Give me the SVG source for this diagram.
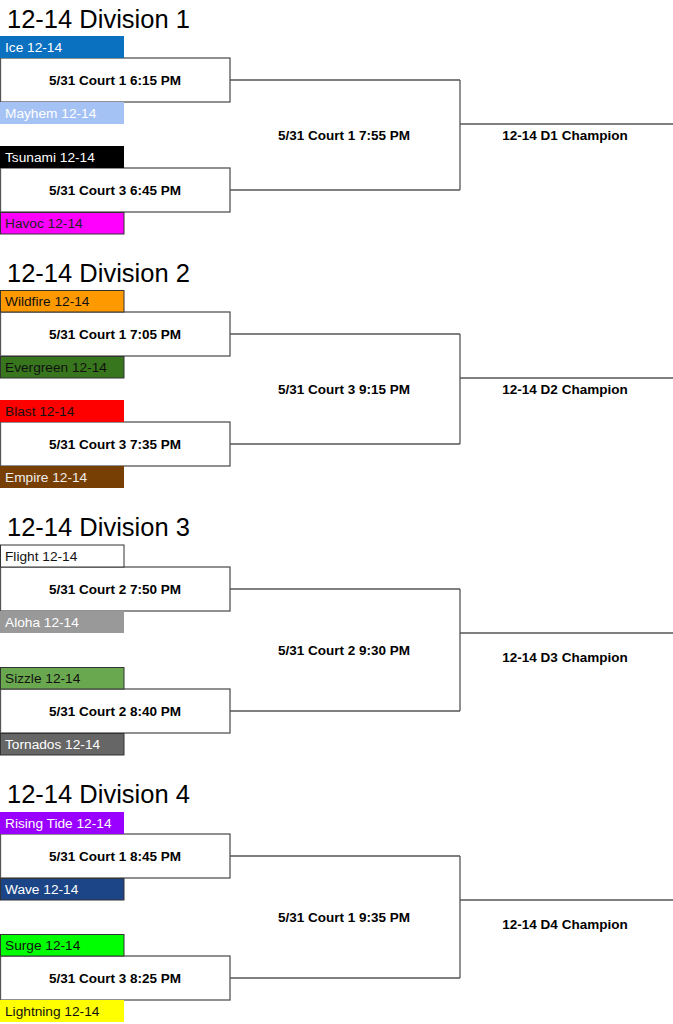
<svg xmlns="http://www.w3.org/2000/svg" width="673" height="1024" viewBox="0 0 673 1024">
<style>
.title{font-family:"Liberation Sans",Arial,sans-serif;font-size:25.5px;fill:#000}
.team{font-family:"Liberation Sans",Arial,sans-serif;font-size:13.7px}
.match{font-family:"Liberation Sans",Arial,sans-serif;font-size:13.5px;font-weight:bold;fill:#000;text-anchor:middle}
.mbox{fill:#fff;stroke:#555;stroke-width:1.3}
.tb{stroke:#333;stroke-width:1}
.conn line{stroke:#555;stroke-width:1.3}
</style>
<rect width="673" height="1024" fill="#fff"/>

<!-- Division 1 -->
<text class="title" x="7" y="28">12-14 Division 1</text>
<g id="d1-m1"><rect class="mbox" x="0.5" y="58" width="229.5" height="44"/><text class="match" x="115" y="84.5">5/31 Court 1 6:15 PM</text></g>
<g id="d1-m2"><rect class="mbox" x="0.5" y="168" width="229.5" height="44"/><text class="match" x="115" y="194.5">5/31 Court 3 6:45 PM</text></g>
<g id="d1-t1"><rect x="0" y="36" width="124" height="22" fill="#0a70c0"/><text class="team" x="5" y="52" fill="#fff">Ice 12-14</text></g>
<g id="d1-t2"><rect x="0" y="102" width="124" height="22" fill="#a4c2f4"/><text class="team" x="5" y="118" fill="#fff">Mayhem 12-14</text></g>
<g id="d1-t3"><rect x="0" y="146" width="124" height="22" fill="#000"/><text class="team" x="5" y="162" fill="#fff">Tsunami 12-14</text></g>
<g id="d1-t4"><rect class="tb" x="0.5" y="212.5" width="123.5" height="21.5" fill="#ff00ff"/><text class="team" x="5" y="228" fill="#222">Havoc 12-14</text></g>
<g id="d1-final"><text class="match" x="344" y="139.5">5/31 Court 1 7:55 PM</text></g>
<g id="d1-champ"><text class="match" x="565" y="139.5">12-14 D1 Champion</text></g>

<!-- Division 2 -->
<text class="title" x="7" y="282">12-14 Division 2</text>
<g id="d2-m1"><rect class="mbox" x="0.5" y="312" width="229.5" height="44"/><text class="match" x="115" y="338.5">5/31 Court 1 7:05 PM</text></g>
<g id="d2-m2"><rect class="mbox" x="0.5" y="422" width="229.5" height="44"/><text class="match" x="115" y="448.5">5/31 Court 3 7:35 PM</text></g>
<g id="d2-t1"><rect class="tb" x="0.5" y="290.5" width="123.5" height="21.5" fill="#ff9900"/><text class="team" x="5" y="306" fill="#111">Wildfire 12-14</text></g>
<g id="d2-t2"><rect class="tb" x="0.5" y="356.5" width="123.5" height="21.5" fill="#38761d"/><text class="team" x="5" y="372" fill="#111">Evergreen 12-14</text></g>
<g id="d2-t3"><rect x="0" y="400" width="124" height="22" fill="#ff0000"/><text class="team" x="5" y="416" fill="#111">Blast 12-14</text></g>
<g id="d2-t4"><rect x="0" y="466" width="124" height="22" fill="#783f04"/><text class="team" x="5" y="482" fill="#eee">Empire 12-14</text></g>
<g id="d2-final"><text class="match" x="344" y="393.5">5/31 Court 3 9:15 PM</text></g>
<g id="d2-champ"><text class="match" x="565" y="393.5">12-14 D2 Champion</text></g>

<!-- Division 3 -->
<text class="title" x="7" y="536">12-14 Division 3</text>
<g id="d3-m1"><rect class="mbox" x="0.5" y="567" width="229.5" height="44"/><text class="match" x="115" y="593.5">5/31 Court 2 7:50 PM</text></g>
<g id="d3-m2"><rect class="mbox" x="0.5" y="689" width="229.5" height="44"/><text class="match" x="115" y="715.5">5/31 Court 2 8:40 PM</text></g>
<g id="d3-t1"><rect class="tb" x="0.5" y="545" width="123.5" height="22" fill="#fff"/><text class="team" x="5" y="561" fill="#111">Flight 12-14</text></g>
<g id="d3-t2"><rect x="0" y="611" width="124" height="22" fill="#999999"/><text class="team" x="5" y="627" fill="#fff">Aloha 12-14</text></g>
<g id="d3-t3"><rect class="tb" x="0.5" y="667.5" width="123.5" height="21.5" fill="#6aa84f"/><text class="team" x="5" y="683" fill="#111">Sizzle 12-14</text></g>
<g id="d3-t4"><rect class="tb" x="0.5" y="733.5" width="123.5" height="21.5" fill="#666666"/><text class="team" x="5" y="749" fill="#fff">Tornados 12-14</text></g>
<g id="d3-final"><text class="match" x="344" y="654.5">5/31 Court 2 9:30 PM</text></g>
<g id="d3-champ"><text class="match" x="565" y="661.5">12-14 D3 Champion</text></g>

<!-- Division 4 -->
<text class="title" x="7" y="803">12-14 Division 4</text>
<g id="d4-m1"><rect class="mbox" x="0.5" y="834" width="229.5" height="44"/><text class="match" x="115" y="860.5">5/31 Court 1 8:45 PM</text></g>
<g id="d4-m2"><rect class="mbox" x="0.5" y="956" width="229.5" height="44"/><text class="match" x="115" y="982.5">5/31 Court 3 8:25 PM</text></g>
<g id="d4-t1"><rect x="0" y="812" width="124" height="22" fill="#9900ff"/><text class="team" x="5" y="828" fill="#fff">Rising Tide 12-14</text></g>
<g id="d4-t2"><rect class="tb" x="0.5" y="878.5" width="123.5" height="21.5" fill="#1c4587"/><text class="team" x="5" y="894" fill="#fff">Wave 12-14</text></g>
<g id="d4-t3"><rect class="tb" x="0.5" y="934.5" width="123.5" height="21.5" fill="#00ff00"/><text class="team" x="5" y="950" fill="#111">Surge 12-14</text></g>
<g id="d4-t4"><rect x="0" y="1000" width="124" height="22" fill="#ffff00"/><text class="team" x="5" y="1016" fill="#111">Lightning 12-14</text></g>
<g id="d4-final"><text class="match" x="344" y="921.5">5/31 Court 1 9:35 PM</text></g>
<g id="d4-champ"><text class="match" x="565" y="928.5">12-14 D4 Champion</text></g>

<g id="connectors" class="conn">
<line x1="230" y1="80" x2="460" y2="80"/><line x1="230" y1="190" x2="460" y2="190"/><line x1="460" y1="80" x2="460" y2="190"/><line x1="460" y1="124" x2="673" y2="124"/>
<line x1="230" y1="334" x2="460" y2="334"/><line x1="230" y1="444" x2="460" y2="444"/><line x1="460" y1="334" x2="460" y2="444"/><line x1="460" y1="378" x2="673" y2="378"/>
<line x1="230" y1="589" x2="460" y2="589"/><line x1="230" y1="711" x2="460" y2="711"/><line x1="460" y1="589" x2="460" y2="711"/><line x1="460" y1="633" x2="673" y2="633"/>
<line x1="230" y1="856" x2="460" y2="856"/><line x1="230" y1="978" x2="460" y2="978"/><line x1="460" y1="856" x2="460" y2="978"/><line x1="460" y1="900" x2="673" y2="900"/>
</g>
</svg>
